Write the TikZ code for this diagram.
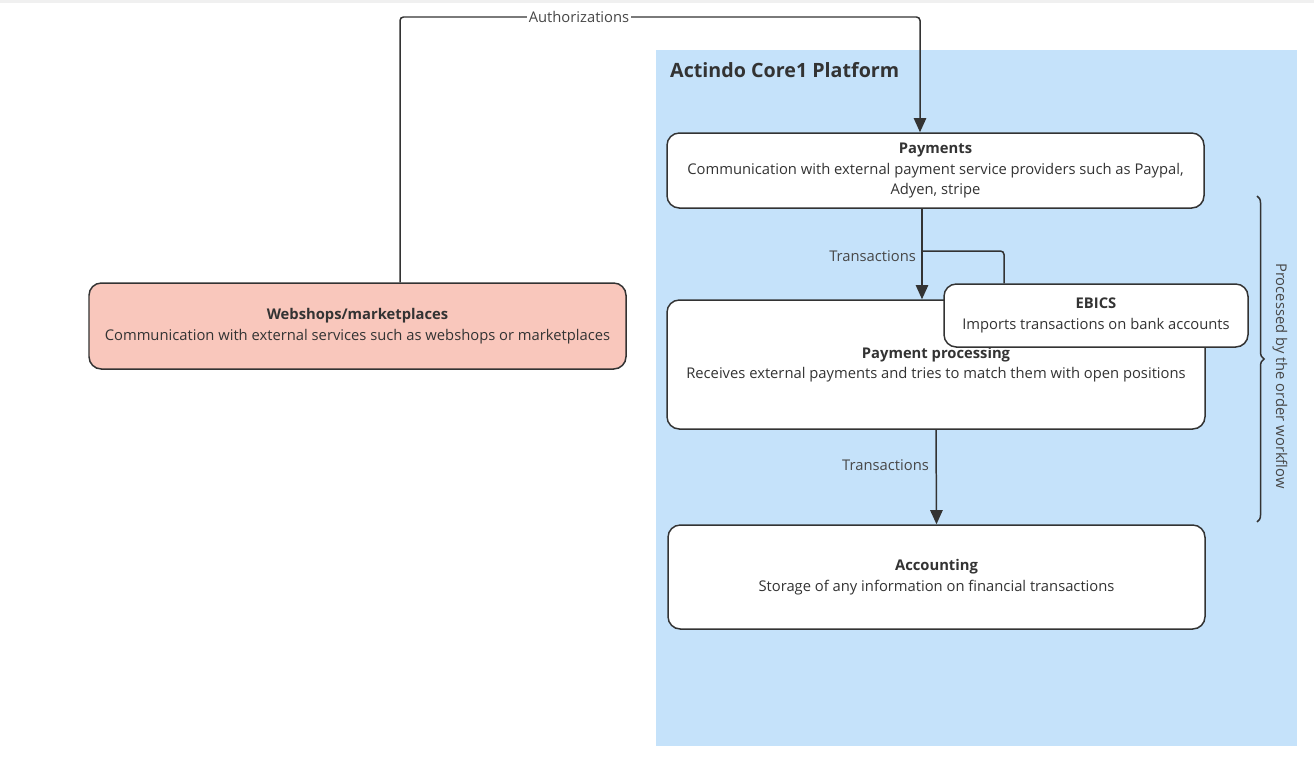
\documentclass[tikz,border=0pt]{standalone}
\usepackage{fontspec}
\setmainfont{Open Sans}
\usepackage{tikz}
\usetikzlibrary{calc,arrows.meta,decorations.pathreplacing,positioning}
\definecolor{platform}{RGB}{197,226,250}
\definecolor{shop}{RGB}{249,199,188}
\definecolor{ink}{RGB}{51,51,51}

\begin{document}
\begin{tikzpicture}[x=0.02cm,y=-0.02cm,
		box/.style={draw=ink,line width=0.85pt,rounded corners=7pt,fill=white,align=center,text=ink,inner sep=0pt,font=\fontsize{8.4}{11.6}\selectfont},
		conn/.style={draw=ink,line width=0.85pt},
		arr/.style={conn,-{Triangle[width=7pt,length=8pt]}},
		lbl/.style={text=ink!90,font=\fontsize{8.4}{9}\selectfont,inner sep=1pt}]
				\useasboundingbox (0,0) rectangle (1314,761);
				\fill[black!6] (0,0) rectangle (1314,3);
				% platform area
				\fill[platform] (656,50) rectangle (1297,746);
				\node[anchor=west,text=ink,font=\bfseries\fontsize{11.2}{13}\selectfont] (title) at (664,70) {Actindo Core1 Platform};
				
				\node[box,fill=shop,minimum width=537*0.02cm,minimum height=86*0.02cm] (shops) at (357.5,326)
					{\textbf{Webshops/marketplaces}\\Communication with external services such as webshops or marketplaces};
				\node[box,minimum width=537*0.02cm,minimum height=75*0.02cm] (pay) at (935.5,170.5)
					{\textbf{Payments}\\Communication with external payment service providers such as Paypal,\\Adyen, stripe};
				\node[box,minimum width=538*0.02cm,minimum height=129*0.02cm] (proc) at (936,364.5)
					{\textbf{Payment processing}\\Receives external payments and tries to match them with open positions};
				\node[box,minimum width=304*0.02cm,minimum height=63*0.02cm] (ebics) at (1096,315.5)
					{\textbf{EBICS}\\Imports transactions on bank accounts};
				\node[box,minimum width=537*0.02cm,minimum height=104*0.02cm] (acc) at (936.5,577)
					{\textbf{Accounting}\\Storage of any information on financial transactions};
				
				\coordinate (authtop) at (400,17);
				\coordinate (authin) at (920,0);
				\coordinate (tx) at (922,0);
				\coordinate (ebx) at (1004,251);
				
				\draw[arr,rounded corners=2pt] (shops.north -| authtop) -- (authtop) -| (pay.north -| authin);
				\node[lbl,fill=white] (auth) at (579,17) {Authorizations};
				
				\draw[arr] (pay.south -| tx) -- (proc.north -| tx);
				\draw[conn,rounded corners=2pt] (ebics.north -| ebx) -- (ebx) -- (ebx -| tx);
				\node[lbl,anchor=east] (tx1) at (918,256) {Transactions};
				
				\draw[arr] (proc.south) -- (acc.north);
				\node[lbl,anchor=east] (tx2) at (931,465) {Transactions};
				
				% brace round the order workflow
				\coordinate (bra) at (1257,196);
				\coordinate (brb) at (1257,522);
				\draw[conn,decorate,decoration={brace,amplitude=4pt}] (bra) -- (brb);
				\node[lbl,rotate=-90] (flow) at (1280,376) {Processed by the order workflow};
\end{tikzpicture}
\end{document}
